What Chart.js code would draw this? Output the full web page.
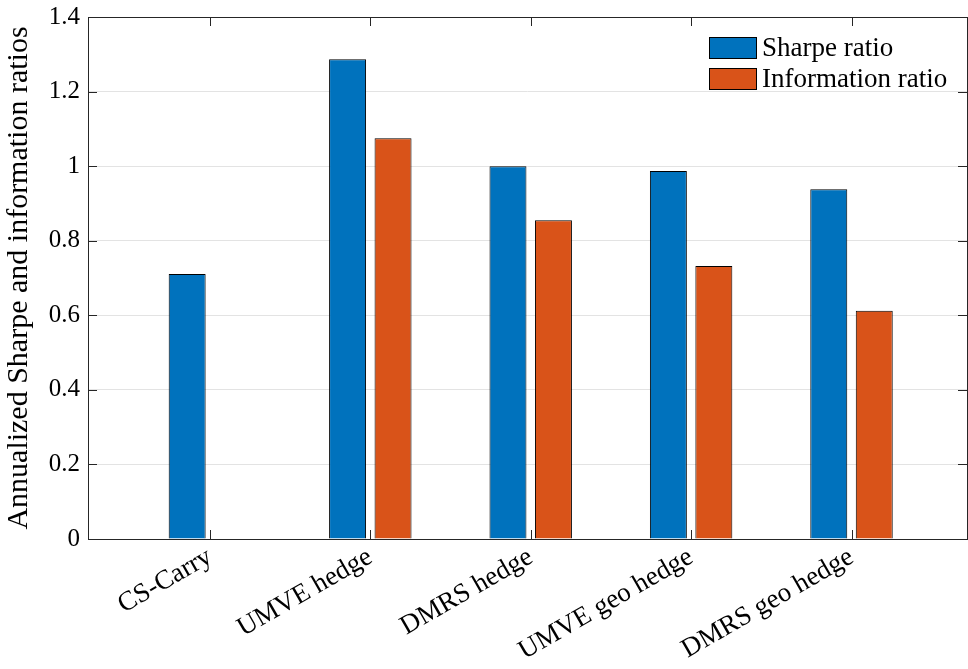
<!DOCTYPE html>
<html>
<head>
<meta charset="utf-8">
<script src="https://cdn.jsdelivr.net/npm/chart.js@4/dist/chart.umd.min.js"></script>
<style>
  html, body { margin: 0; padding: 0; background: #fff; }
  #wrap { position: relative; width: 968px; height: 669px; }
  #legend { position: absolute; left: 709px; top: 32px; font-family: "Liberation Serif", serif; font-size: 27px; color: #000; }
  #legend .row { display: flex; align-items: center; height: 31px; }
  #legend .box { width: 46px; height: 20px; border: 1px solid #000; margin-right: 5px; }
</style>
</head>
<body>
<div id="wrap">
  <canvas id="chart"></canvas>
  <div id="legend"></div>
</div>
<script>
const categories = ['CS-Carry', 'UMVE hedge', 'DMRS hedge', 'UMVE geo hedge', 'DMRS geo hedge'];
const sharpeRatio = [0.711, 1.287, 1.0, 0.987, 0.938];
const infoRatio = [0.0, 1.075, 0.855, 0.732, 0.612];
const yTicks = [0, 0.2, 0.4, 0.6, 0.8, 1, 1.2, 1.4];

const axisColor = '#262626';
const serif = '"Liberation Serif", serif';

const datasets = [
  { label: 'Sharpe ratio', data: sharpeRatio, color: '#0072BD' },
  { label: 'Information ratio', data: infoRatio, color: '#D95319' }
].map(d => ({
  label: d.label,
  data: d.data.map((v, i) => ({ x: i + 1, y: v })),
  backgroundColor: d.color,
  borderColor: '#000',
  borderWidth: 1,
  categoryPercentage: 0.567,
  barPercentage: 0.813
}));

// box + inward tick marks, MATLAB style
const boxPlugin = {
  id: 'box',
  afterDraw(chart) {
    const { ctx, chartArea: a, scales } = chart;
    ctx.save();
    ctx.strokeStyle = axisColor;
    ctx.lineWidth = 1;
    ctx.beginPath();
    yTicks.forEach(v => {
      const y = Math.round(scales.y.getPixelForValue(v)) + 0.5;
      ctx.moveTo(a.left, y); ctx.lineTo(a.left + 9, y);
      ctx.moveTo(a.right, y); ctx.lineTo(a.right - 9, y);
    });
    categories.forEach((c, i) => {
      const x = Math.round(scales.x.getPixelForValue(i + 1)) + 0.5;
      ctx.moveTo(x, a.bottom); ctx.lineTo(x, a.bottom - 9);
      ctx.moveTo(x, a.top); ctx.lineTo(x, a.top + 9);
    });
    ctx.stroke();
    ctx.strokeRect(Math.round(a.left) + 0.5, Math.round(a.top) + 0.5, Math.round(a.right - a.left), Math.round(a.bottom - a.top));
    ctx.restore();
  }
};

new Chart(document.getElementById('chart'), {
  type: 'bar',
  data: { datasets },
  options: {
    responsive: true,
    maintainAspectRatio: false,
    animation: false,
    layout: { padding: { top: 17, right: 1, left: 0, bottom: 0 } },
    plugins: {
      legend: { display: false },
      tooltip: { enabled: false }
    },
    scales: {
      x: {
        type: 'linear',
        min: 0.24,
        max: 5.72,
        offset: false,
        grid: { display: false, drawTicks: false },
        border: { display: false },
        afterBuildTicks: s => { s.ticks = categories.map((c, i) => ({ value: i + 1 })); },
        afterFit: s => { s.height = 130; s.paddingLeft = 0; s.paddingRight = 0; },
        ticks: {
          autoSkip: false,
          minRotation: 30,
          maxRotation: 30,
          padding: 2,
          color: '#000',
          font: { family: serif, size: 27 },
          callback: v => categories[v - 1]
        }
      },
      y: {
        min: 0,
        max: 1.4,
        afterBuildTicks: s => { s.ticks = yTicks.map(v => ({ value: v })); },
        afterFit: s => { s.width = 88; s.paddingTop = 0; s.paddingBottom = 0; },
        grid: { color: '#e3e3e3', drawTicks: false },
        border: { display: false },
        ticks: {
          padding: 8,
          color: '#000',
          font: { family: serif, size: 25 },
          callback: v => String(+v.toFixed(1))
        },
        title: {
          display: true,
          text: 'Annualized Sharpe and information ratios',
          color: '#000',
          font: { family: serif, size: 30 },
          padding: { top: 1, bottom: 0 }
        }
      }
    }
  },
  plugins: [boxPlugin]
});

// legend inside the axes, top right
const legendEl = document.getElementById('legend');
datasets.forEach(d => {
  const row = document.createElement('div');
  row.className = 'row';
  const box = document.createElement('div');
  box.className = 'box';
  box.style.background = d.backgroundColor;
  const txt = document.createElement('span');
  txt.textContent = d.label;
  row.appendChild(box);
  row.appendChild(txt);
  legendEl.appendChild(row);
});
</script>
</body>
</html>
